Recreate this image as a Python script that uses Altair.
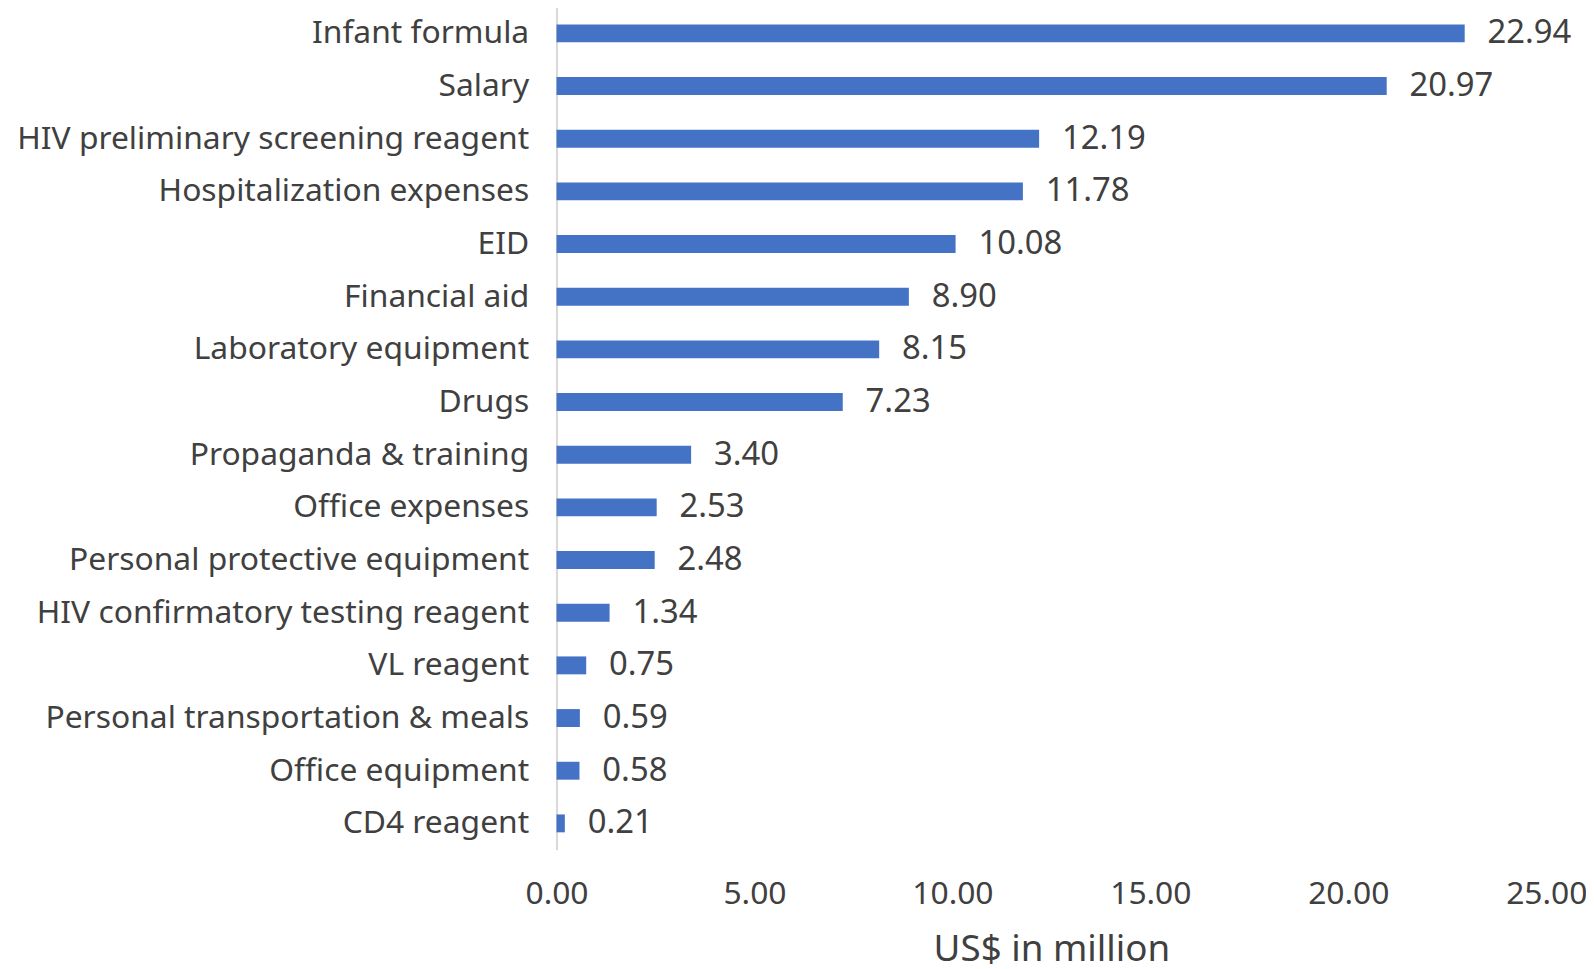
import altair as alt
import pandas as pd

categories = ["Infant formula", "Salary", "HIV preliminary screening reagent",
              "Hospitalization expenses", "EID", "Financial aid", "Laboratory equipment",
              "Drugs", "Propaganda & training", "Office expenses",
              "Personal protective equipment", "HIV confirmatory testing reagent",
              "VL reagent", "Personal transportation & meals", "Office equipment",
              "CD4 reagent"]
values = [22.94, 20.97, 12.19, 11.78, 10.08, 8.90, 8.15, 7.23, 3.40, 2.53,
          2.48, 1.34, 0.75, 0.59, 0.58, 0.21]
x_ticks = [0, 5, 10, 15, 20, 25]

df = pd.DataFrame({"category": categories, "value": values})

FONT = "Noto Sans"
TXT = "#404040"

y_enc = alt.Y("category:N", sort=categories, title=None,
              scale=alt.Scale(paddingInner=0.66, paddingOuter=0.33),
              axis=alt.Axis(labelFont=FONT, labelFontSize=32, labelColor=TXT,
                            labelPadding=28, ticks=False, domainColor="#d9d9d9",
                            domainWidth=2, labelLimit=0))
x_enc = alt.X("value:Q", title="US$ in million",
              scale=alt.Scale(domain=[0, 25], nice=False),
              axis=alt.Axis(values=x_ticks, format=".2f", grid=False, domain=False,
                            ticks=False, labelFlush=False, labelFont=FONT,
                            labelFontSize=32, labelColor=TXT, labelPadding=29,
                            titleFont=FONT, titleFontSize=37,
                            titleFontWeight="normal", titleColor=TXT,
                            titlePadding=22))

bars = alt.Chart(df).mark_bar(color="#4472C4").encode(y=y_enc, x=x_enc)
labels = alt.Chart(df).mark_text(align="left", baseline="middle", dx=23,
                                 font=FONT, fontSize=33, color=TXT).encode(
    y=alt.Y("category:N", sort=categories),
    x="value:Q",
    text=alt.Text("value:Q", format=".2f"))

chart = (bars + labels).properties(
    width=996, height=848,
    autosize=alt.AutoSizeParams(type="none"),
    padding={"left": 552, "top": -4, "right": 40, "bottom": 120},
).configure_view(stroke=None)

chart.save("out.html", embed_options={"renderer": "svg", "actions": False})
